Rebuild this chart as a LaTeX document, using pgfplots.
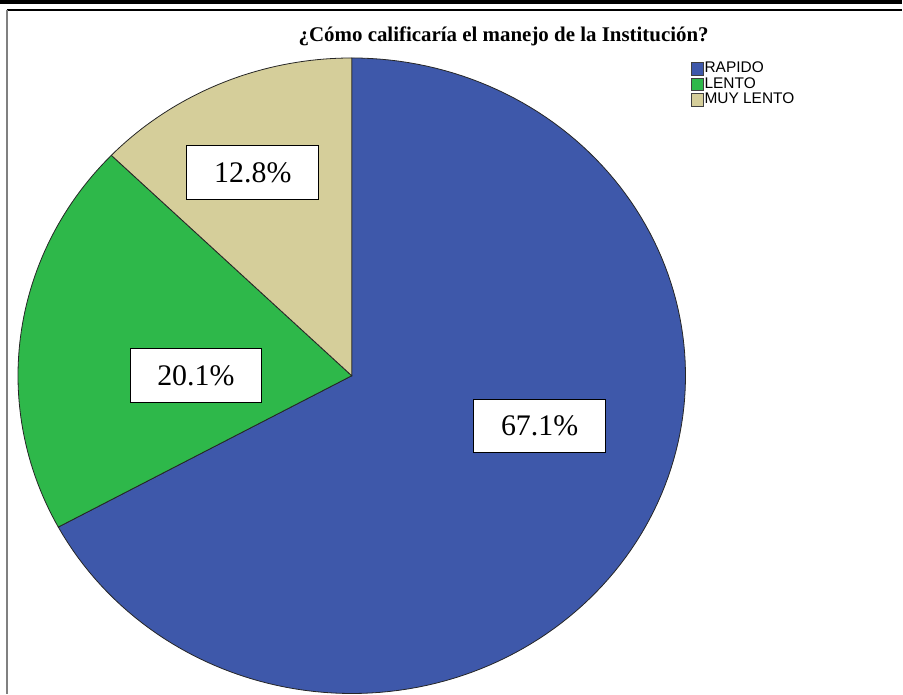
\documentclass[border=0pt]{standalone}
\usepackage{pgfplots}
\pgfplotsset{compat=1.18}
\usepackage{fontspec}
\setmainfont{Liberation Serif}
\newfontfamily\arial{Liberation Sans}
\definecolor{cBlue}{RGB}{62,88,170}
\definecolor{cGreen}{RGB}{46,184,74}
\definecolor{cTan}{RGB}{213,206,154}
\begin{document}
\begin{tikzpicture}[x=1bp,y=1bp]
% data (percent)
\def\vA{67.1}\def\vB{20.1}\def\vC{12.8}
\pgfmathsetmacro\aA{90}
\pgfmathsetmacro\aB{90-3.6*\vA}
\pgfmathsetmacro\aC{\aB-3.6*\vB}
\pgfmathsetmacro\aD{\aC-3.6*\vC}
\begin{axis}[
  width=903bp, height=694bp, scale only axis,
  xmin=0, xmax=903, ymin=0, ymax=694, y dir=reverse,
  hide axis, clip=false,
  legend cell align=left,
  legend image code/.code={\draw[#1,draw=black!75,line width=0.9bp] (0bp,-6.3bp) rectangle (12.5bp,6.3bp);},
  legend style={at={(axis cs:691,61)}, anchor=north west, draw=none, fill=none,
    font=\arial\fontsize{15.5}{15.5}\selectfont, inner sep=0pt, row sep=0pt,
    nodes={inner sep=0.5bp, text height=11bp, text depth=3.5bp}},
]
% frame
\fill[black] (axis cs:0,0) rectangle (axis cs:903,4.5);
\draw[black, line width=1.3bp] (axis cs:7,10) -- (axis cs:903,10);
\draw[black!50, line width=2bp] (axis cs:7,10) -- (axis cs:7,694);
% slices
\addplot[fill=cBlue, draw=black!85, line width=0.8bp, domain=\aA:\aB, samples=150]
  ({352+334*cos(x)},{376-318*sin(x)}) -- (axis cs:352,376) -- cycle;
\addlegendentry{RAPIDO}
\addplot[fill=cGreen, draw=black!85, line width=0.8bp, domain=\aB:\aC, samples=60]
  ({352+334*cos(x)},{376-318*sin(x)}) -- (axis cs:352,376) -- cycle;
\addlegendentry{LENTO}
\addplot[fill=cTan, draw=black!85, line width=0.8bp, domain=\aC:\aD, samples=40]
  ({352+334*cos(x)},{376-318*sin(x)}) -- (axis cs:352,376) -- cycle;
\addlegendentry{MUY LENTO}
% title
\node[font=\bfseries\fontsize{21}{23}\selectfont] at (axis cs:504,36) {¿Cómo calificaría el manejo de la Institución?};
% labels
\node[draw=black, fill=white, line width=0.8bp, minimum width=132bp, minimum height=53bp, inner sep=0pt,
  font=\fontsize{30}{32}\selectfont] at (axis cs:540,426) {67.1\%};
\node[draw=black, fill=white, line width=0.8bp, minimum width=132bp, minimum height=54bp, inner sep=0pt,
  font=\fontsize{30}{32}\selectfont] at (axis cs:196,376) {20.1\%};
\node[draw=black, fill=white, line width=0.8bp, minimum width=132bp, minimum height=54bp, inner sep=0pt,
  font=\fontsize{30}{32}\selectfont] at (axis cs:253,173) {12.8\%};
\end{axis}
\end{tikzpicture}
\end{document}
